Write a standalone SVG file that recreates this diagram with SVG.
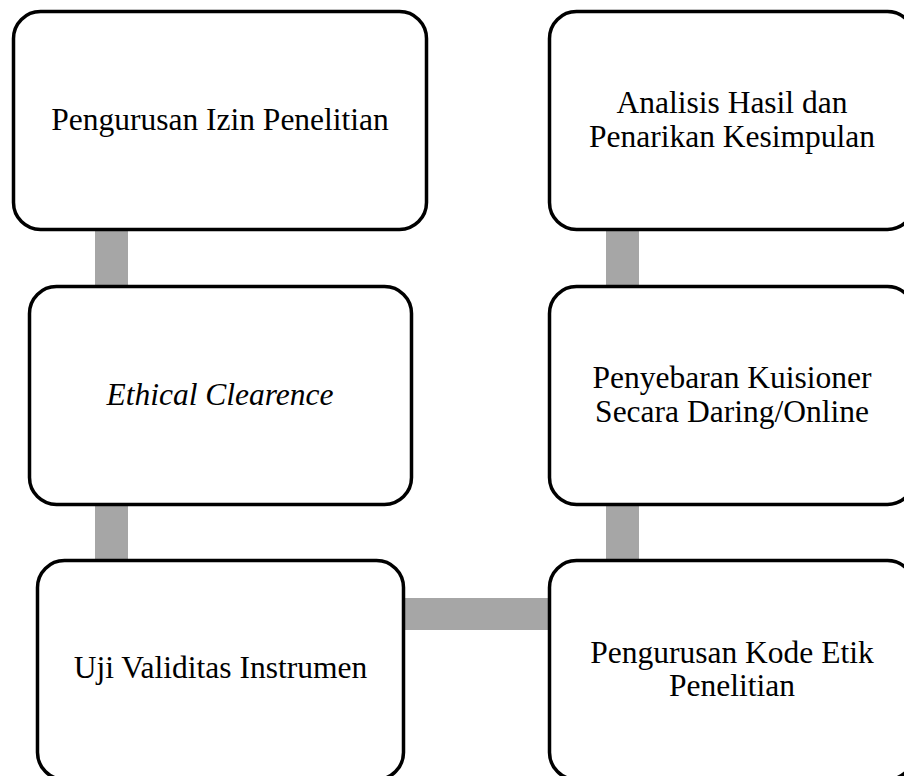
<svg xmlns="http://www.w3.org/2000/svg" width="904" height="776" viewBox="0 0 904 776">
<style>
.box{fill:#ffffff;stroke:#000000;stroke-width:3.5}
.t{font-family:"Liberation Serif","Times New Roman",serif;font-size:31.5px;fill:#000000;text-anchor:middle}
.i{font-style:italic}
.c{fill:#a6a6a6}
</style>
<rect width="904" height="776" fill="#ffffff"/>
<g id="connectors">
<rect class="c" x="95" y="225" width="33" height="65"/>
<rect class="c" x="95" y="500" width="33" height="65"/>
<rect class="c" x="400" y="598" width="152" height="32"/>
<rect class="c" x="606" y="225" width="33" height="65"/>
<rect class="c" x="606" y="500" width="33" height="65"/>
</g>
<g id="n1"><rect class="box" x="13.5" y="11.5" width="413" height="218" rx="27"/><text class="t" x="220" y="130">Pengurusan Izin Penelitian</text></g>
<g id="n2"><rect class="box" x="29.5" y="286.5" width="382" height="218" rx="27"/><text class="t i" x="220" y="405">Ethical Clearence</text></g>
<g id="n3"><rect class="box" x="37.5" y="560.5" width="366" height="219" rx="27"/><text class="t" x="220.5" y="678">Uji Validitas Instrumen</text></g>
<g id="n4"><rect class="box" x="549.5" y="11.5" width="365" height="218" rx="27"/><text class="t" x="732" y="113">Analisis Hasil dan</text><text class="t" x="732" y="147">Penarikan Kesimpulan</text></g>
<g id="n5"><rect class="box" x="549.5" y="286.5" width="365" height="218" rx="27"/><text class="t" x="732" y="388">Penyebaran Kuisioner</text><text class="t" x="732" y="422">Secara Daring/Online</text></g>
<g id="n6"><rect class="box" x="549.5" y="560.5" width="365" height="219" rx="27"/><text class="t" x="732" y="663">Pengurusan Kode Etik</text><text class="t" x="732" y="696">Penelitian</text></g>
</svg>
